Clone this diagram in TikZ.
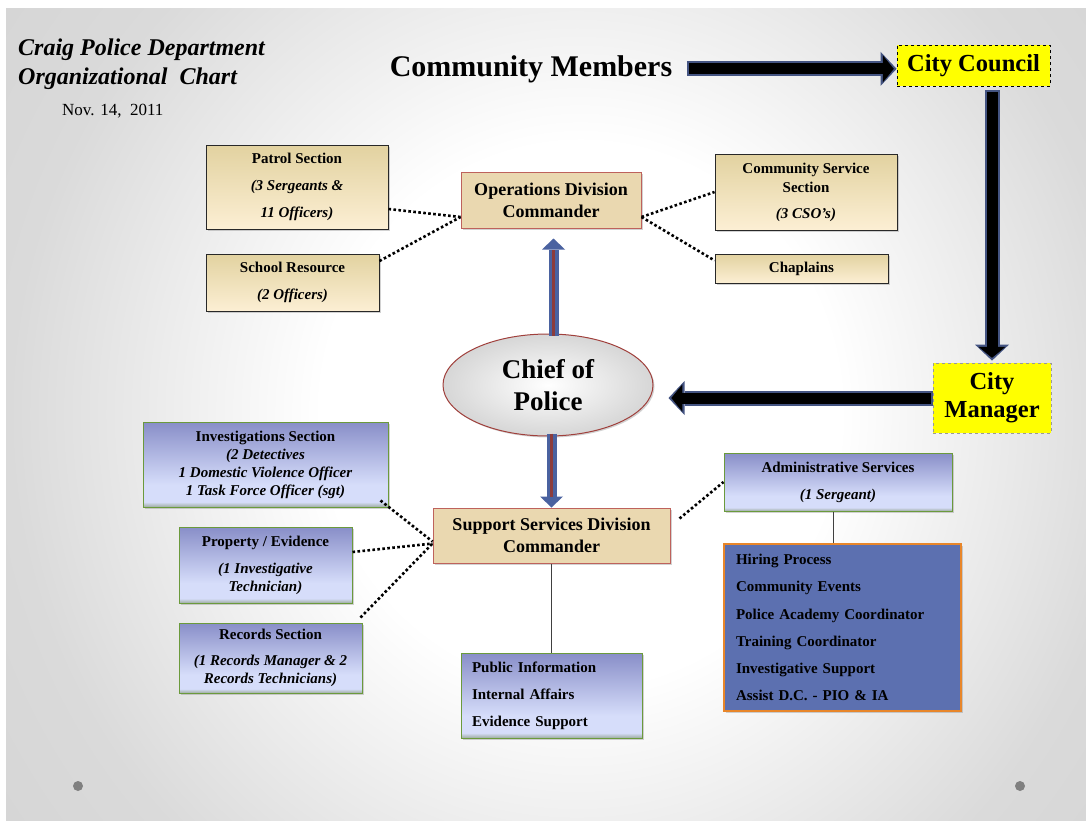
\documentclass[tikz,border=0pt]{standalone}
\usepackage{fontspec}
\setmainfont{Liberation Serif}
\usetikzlibrary{arrows.meta,shapes.geometric,shadows,calc}
\definecolor{ol}{RGB}{68,84,130}
\definecolor{barrow}{RGB}{74,98,160}
\definecolor{redln}{RGB}{140,60,60}
\definecolor{parch}{RGB}{234,216,176}
\definecolor{parchb}{RGB}{190,98,92}
\definecolor{btop}{RGB}{226,210,160}
\definecolor{bbot}{RGB}{252,239,212}
\definecolor{bbor}{RGB}{40,40,40}
\definecolor{blTop}{RGB}{136,142,200}
\definecolor{blLight}{RGB}{214,221,250}
\definecolor{blBot}{RGB}{158,172,160}
\definecolor{grn}{RGB}{107,154,60}
\definecolor{listfill}{RGB}{92,112,176}
\definecolor{orng}{RGB}{232,134,42}
\definecolor{yel}{RGB}{255,255,0}
\definecolor{bgmid}{RGB}{218,218,218}
\definecolor{bgout}{RGB}{208,208,208}
\definecolor{chiefb}{RGB}{160,64,60}
\pgfdeclareverticalshading{blueshade}{100bp}{color(0bp)=(blBot); color(25bp)=(blBot); color(28bp)=(blLight); color(38bp)=(blLight); color(75bp)=(blTop); color(100bp)=(blTop)}
\pgfdeclareradialshading{slidebg}{\pgfpoint{2bp}{0bp}}{color(0bp)=(white); color(12bp)=(white); color(26bp)=(bgmid); color(40bp)=(bgout); color(60bp)=(bgout)}
\begin{document}
\begin{tikzpicture}[x=1pt,y=-1pt,
  shd/.style={drop shadow={shadow xshift=1.5pt,shadow yshift=-1.5pt,opacity=0.35}},
  beigebox/.style={draw=bbor,line width=0.9pt,top color=btop,bottom color=bbot,shd,
    font=\fontsize{15}{27}\selectfont\bfseries,align=center,inner sep=0pt},
  bluesec/.style={draw=grn,line width=1pt,shading=blueshade,shd,
    font=\fontsize{15}{18}\selectfont\bfseries,align=center,inner sep=0pt},
  parchbox/.style={draw=parchb,line width=1pt,fill=parch,shd,
    font=\fontsize{18}{22}\selectfont\bfseries,align=center,inner sep=0pt},
  yelbox/.style={fill=yel,draw=black,dashed,line width=0.8pt,
    font=\fontsize{24.5}{28}\selectfont\bfseries,align=center,inner sep=0pt},
  dotline/.style={line width=2.6pt,dash pattern=on 2.6pt off 2.4pt},
  thinline/.style={draw=black!75,line width=1pt},
  baout/.style={draw=ol,line width=15pt,-{Triangle[length=16pt,width=34pt,line width=0pt]}},
  bain/.style={draw=black,line width=11pt,-{Triangle[length=11pt,width=27pt,line width=0pt]}},
  barr/.style={draw=barrow,line width=10pt,-{Triangle[length=11pt,width=23pt,line width=0pt]}},
  stripe/.style={draw=redln,line width=2.5pt}]
\useasboundingbox (0,0) rectangle (1086,820);
\fill[white] (0,0) rectangle (1086,820);
\begin{scope}
\clip (6,8) rectangle (1086,820);
\shade[shading=slidebg] (6,-150) rectangle (1086,978);
\end{scope}

% titles
\node[anchor=base west,font=\fontsize{24}{28}\selectfont\bfseries\itshape,inner sep=0pt] (t1) at (18,55) {Craig Police Department};
\node[anchor=base west,font=\fontsize{24}{28}\selectfont\bfseries\itshape,inner sep=0pt] (t2) at (18,84) {Organizational\ \ Chart};
\node[anchor=base west,font=\fontsize{17}{20}\selectfont,inner sep=0pt] (date) at (62,115) {Nov. 14,\ \ 2011};
\node[anchor=base,font=\fontsize{30}{34}\selectfont\bfseries] (cm) at (531,76) {Community Members};

% top nodes
\node[yelbox,minimum width=153pt,minimum height=41pt] (cc) at (973.5,65.5) {City Council};
\node[yelbox,draw=gray!80,minimum width=118pt,minimum height=70pt] (mgr) at (992,398) {City\\Manager};
\node[ellipse,draw=chiefb,line width=1pt,inner color=white,outer color=gray!32,shd,
  minimum width=210pt,minimum height=102pt,inner sep=0pt,
  font=\fontsize{27}{32}\selectfont\bfseries,align=center] (chief) at (548,385) {Chief of\\Police};

\node[parchbox,minimum width=180pt,minimum height=56pt] (ops) at (551,200) {Operations Division\\Commander};
\node[parchbox,minimum width=237pt,minimum height=55pt] (sup) at (551.5,535.5) {Support Services Division\\Commander};

% operations sections
\node[beigebox,minimum width=182pt,minimum height=84pt] (patrol) at (297,187) {Patrol Section\\\textit{(3 Sergeants \&}\\\textit{11 Officers)}};
\node[beigebox,minimum width=173pt,minimum height=57pt] (school) at (292.5,282.5) {School Resource\\\textit{(2 Officers)}};
\node[beigebox,font=\fontsize{15}{19}\selectfont\bfseries,minimum width=182pt,minimum height=76pt] (css) at (806,192) {Community Service\\Section\\[7pt]\textit{(3 CSO’s)}};
\node[beigebox,minimum width=173pt,minimum height=29pt] (chap) at (801.5,268.5) {Chaplains};

% support sections
\node[bluesec,minimum width=245pt,minimum height=85pt] (inv) at (265.5,464.5) {Investigations Section\\\textit{(2 Detectives}\\\textit{1 Domestic Violence Officer}\\\textit{1 Task Force Officer (sgt)}};
\node[bluesec,minimum width=173pt,minimum height=76pt] (prop) at (265.5,565) {Property / Evidence\\[9pt]\textit{(1 Investigative}\\\textit{Technician)}};
\node[bluesec,minimum width=183pt,minimum height=70pt] (rec) at (270.5,658) {Records Section\\[8pt]\textit{(1 Records Manager \& 2}\\\textit{Records Technicians)}};
\node[bluesec,font=\fontsize{15}{27}\selectfont\bfseries,minimum width=228pt,minimum height=58pt] (admin) at (838,482) {Administrative Services\\\textit{(1 Sergeant)}};
\node[bluesec,font=\fontsize{15}{27}\selectfont\bfseries,align=left,text width=159pt,inner xsep=11pt,minimum height=85pt] (pub) at (551.5,695.5) {Public Information\\Internal Affairs\\Evidence Support};
\node[draw=orng,line width=1.2pt,fill=listfill,shd,font=\fontsize{15}{27.2}\selectfont\bfseries,align=left,text width=213pt,inner xsep=12pt,inner ysep=0pt,minimum height=167pt] (list) at (842.5,627.5) {Hiring Process\\Community Events\\Police Academy Coordinator\\Training Coordinator\\Investigative Support\\Assist D.C. - PIO \& IA};

% dotted connectors
\draw[dotline] ($(patrol.east)+(0,22)$) -- ($(ops.west)+(0,17)$);
\draw[dotline] ($(school.east)+(0,-21.5)$) -- ($(ops.west)+(0,17)$);
\draw[dotline] ($(ops.east)+(0,17)$) -- (css.west);
\draw[dotline] ($(ops.east)+(0,17)$) -- ($(chap.west)+(0,-8)$);
\draw[dotline] ($(inv.south east)+(-8,-7)$) -- ($(sup.west)+(0,6)$);
\draw[dotline] ($(prop.east)+(0,-13)$) -- ($(sup.west)+(0,8)$);
\draw[dotline] ($(rec.north east)+(-2,-5)$) -- ($(sup.west)+(0,8)$);
\draw[dotline] ($(sup.east)+(9,-17)$) -- (admin.west);

% solid connectors
\coordinate (al) at ($(admin.south)+(-5,0)$);
\draw[thinline] (al) -- (al |- list.north);
\draw[thinline] (sup.south) -- (pub.north);

% block arrows
\draw[baout,shorten <=11pt] (cm.east) -- (cm.east -| cc.west);
\draw[bain,shorten <=13pt,shorten >=2.8pt] (cm.east) -- (cm.east -| cc.west);
\draw[baout,shorten <=4pt,shorten >=2pt] (cc.south -| mgr.north) -- (mgr.north);
\draw[bain,shorten <=6pt,shorten >=4.8pt] (cc.south -| mgr.north) -- (mgr.north);
\draw[baout,shorten >=15pt] (mgr.west) -- (mgr.west -| chief.east);
\draw[bain,shorten <=2pt,shorten >=17.8pt] (mgr.west) -- (mgr.west -| chief.east);

% blue arrows
\coordinate (upst) at ($(chief.north)+(5.5,2)$);
\draw[barr,shorten >=10pt] (upst) -- (upst |- ops.south);
\draw[stripe,shorten >=21pt] (upst) -- (upst |- ops.south);
\coordinate (dnst) at ($(chief.south -| sup.north)+(0,-3)$);
\draw[barr] (dnst) -- (sup.north);
\draw[stripe,shorten >=11pt] (dnst) -- (sup.north);

% slide dots
\fill[gray] (78,786) circle (5pt);
\fill[gray] (1020,786) circle (5pt);
\end{tikzpicture}
\end{document}
